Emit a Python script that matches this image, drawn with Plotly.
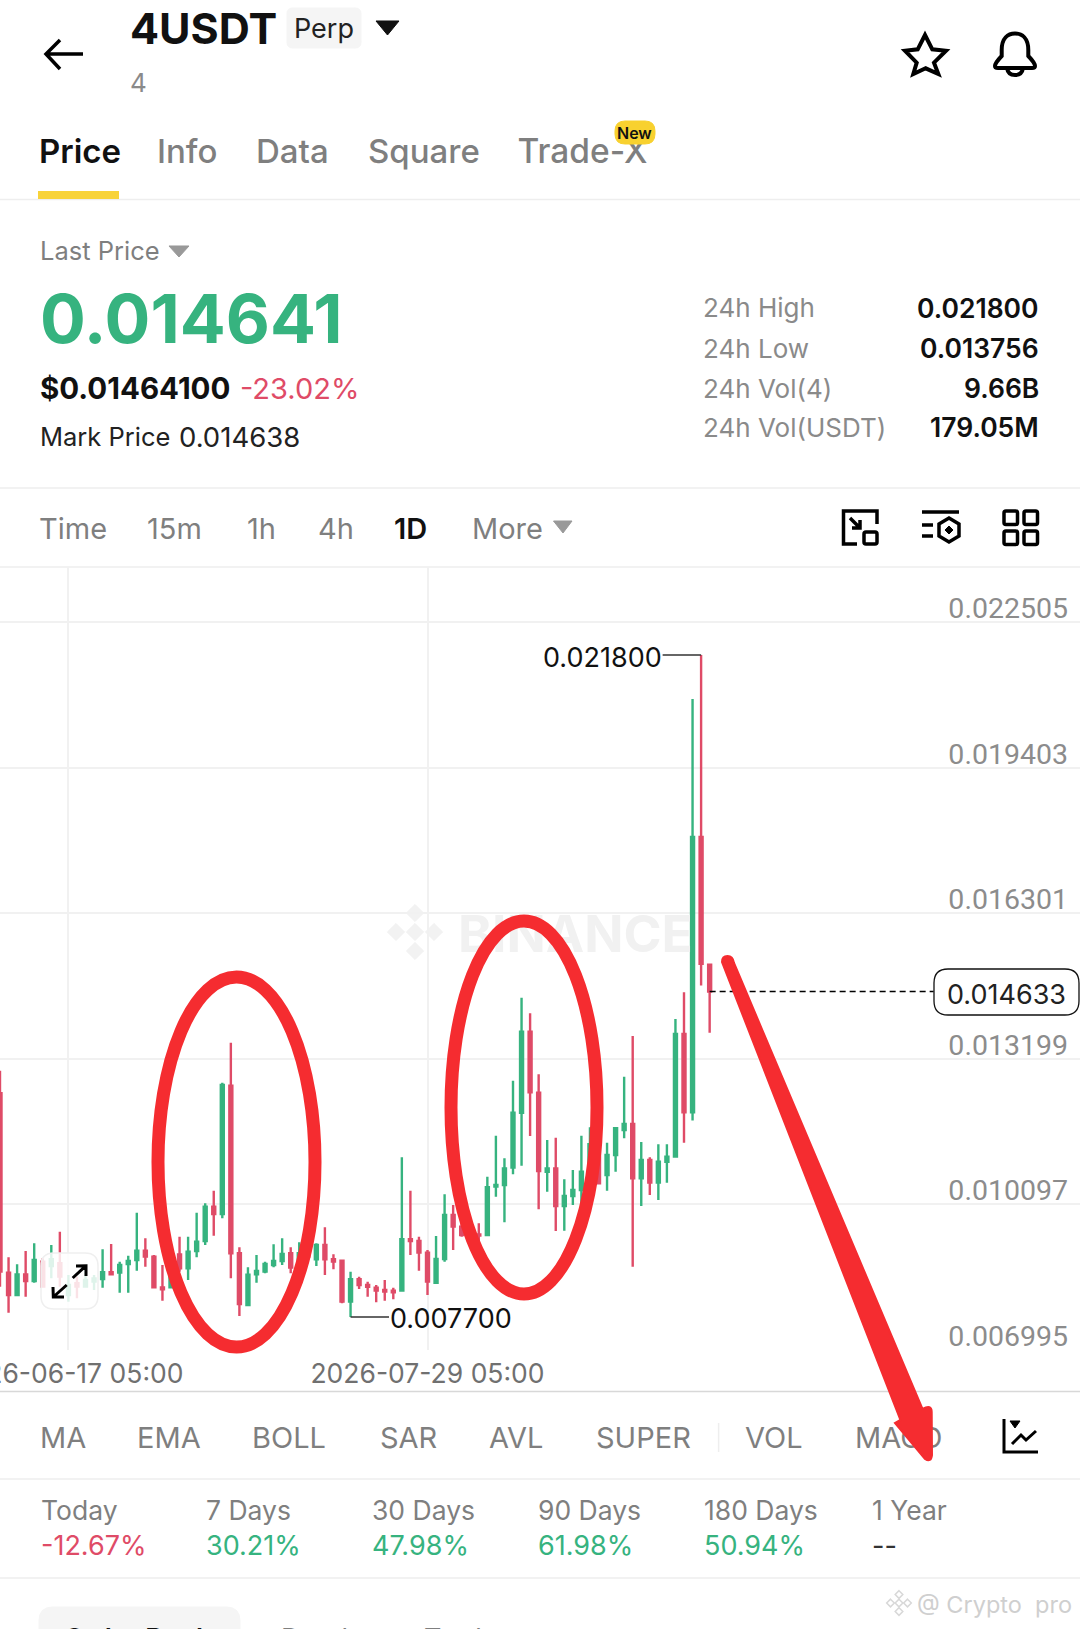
import re
import pandas as pd
import plotly.graph_objects as go

W, H = 1080, 1629
FONT = "Inter"
GREEN = "#36b37f"
RED = "#df4b67"
GRAY = "#7f7f7f"
MARK = "#f52c30"

dates = pd.date_range("2026-06-09 05:00", periods=84, freq="D")

opens = [0.012464, 0.008643, 0.008167, 0.008607, 0.008465, 0.008877, 0.008785, 0.008842, 0.008167, 0.008416,
         0.008345, 0.008451, 0.008508, 0.008650, 0.008643, 0.008827, 0.008913, 0.009111, 0.008984, 0.008330,
         0.008330, 0.009033, 0.008735, 0.009104, 0.009318, 0.010049, 0.009893, 0.012627, 0.009055, 0.007954,
         0.008607, 0.008664, 0.008806, 0.008891, 0.009055, 0.008913, 0.009232, 0.008927, 0.009232, 0.008927,
         0.008899, 0.008025, 0.008501, 0.008380, 0.008323, 0.008273, 0.008259, 0.008259, 0.009353, 0.009317,
         0.009069, 0.008429, 0.008934, 0.009871, 0.009623, 0.009587, 0.009459, 0.009445, 0.010475, 0.010510,
         0.010880, 0.012051, 0.013777, 0.012478, 0.010794, 0.010865, 0.010063, 0.010276, 0.010404, 0.010794,
         0.011377, 0.010723, 0.011150, 0.011682, 0.011810, 0.010652, 0.011043, 0.010560, 0.011007, 0.011114,
         0.013727, 0.012059, 0.017925, 0.015205]
highs = [0.012946, 0.008969, 0.008820, 0.009104, 0.009268, 0.008948, 0.009232, 0.009516, 0.008593, 0.008558,
         0.008771, 0.008593, 0.009140, 0.009254, 0.008877, 0.009005, 0.009921, 0.009374, 0.009019, 0.008806,
         0.009055, 0.009410, 0.009410, 0.009921, 0.010120, 0.010390, 0.012691, 0.013543, 0.009183, 0.008756,
         0.009019, 0.008877, 0.009246, 0.009374, 0.009183, 0.009289, 0.009268, 0.009268, 0.009609, 0.009033,
         0.008913, 0.008664, 0.008557, 0.008451, 0.008380, 0.008486, 0.008323, 0.011100, 0.010390, 0.009410,
         0.009126, 0.009424, 0.010311, 0.010084, 0.009765, 0.009694, 0.009694, 0.010688, 0.011561, 0.011078,
         0.012733, 0.014502, 0.014168, 0.012868, 0.011469, 0.011519, 0.010631, 0.010830, 0.011561, 0.011739,
         0.011682, 0.011412, 0.011732, 0.012818, 0.013685, 0.011426, 0.011100, 0.011377, 0.011377, 0.014047,
         0.014615, 0.020864, 0.021800, 0.015205]
lows = [0.008345, 0.007791, 0.008150, 0.008131, 0.008430, 0.008330, 0.008522, 0.008345, 0.008025, 0.008096,
        0.008330, 0.008274, 0.008323, 0.008593, 0.008217, 0.008217, 0.008685, 0.008771, 0.008309, 0.008046,
        0.008309, 0.008664, 0.008487, 0.008969, 0.009232, 0.009431, 0.009800, 0.008522, 0.007720, 0.007933,
        0.008430, 0.008629, 0.008756, 0.008806, 0.008629, 0.008842, 0.008913, 0.008785, 0.008593, 0.008714,
        0.007989, 0.007700, 0.008295, 0.008131, 0.008011, 0.008046, 0.008074, 0.008238, 0.009019, 0.008685,
        0.008167, 0.008401, 0.008877, 0.009126, 0.009410, 0.009374, 0.009197, 0.009431, 0.010262, 0.009715,
        0.010738, 0.010922, 0.011554, 0.009992, 0.010368, 0.009530, 0.009537, 0.010084, 0.010035, 0.010546,
        0.010532, 0.010390, 0.010794, 0.011505, 0.008770, 0.010063, 0.010297, 0.010191, 0.010560, 0.011100,
        0.011412, 0.011887, 0.014759, 0.013756]
closes = [0.008664, 0.008167, 0.008607, 0.008465, 0.008913, 0.008345, 0.008927, 0.008558, 0.008380, 0.008345,
          0.008487, 0.008522, 0.008650, 0.008607, 0.008806, 0.008891, 0.009111, 0.008984, 0.008330, 0.008288,
          0.008842, 0.008735, 0.009090, 0.009303, 0.010049, 0.009893, 0.012641, 0.009055, 0.007975, 0.008600,
          0.008678, 0.008827, 0.008891, 0.009040, 0.008749, 0.009055, 0.008984, 0.009232, 0.008927, 0.008877,
          0.008025, 0.008501, 0.008380, 0.008344, 0.008259, 0.008238, 0.008224, 0.009353, 0.009317, 0.009069,
          0.008451, 0.008934, 0.009871, 0.009623, 0.009445, 0.009445, 0.009431, 0.010461, 0.010510, 0.010865,
          0.012051, 0.013777, 0.012485, 0.010809, 0.010865, 0.010063, 0.010276, 0.010404, 0.010794, 0.011377,
          0.010546, 0.011150, 0.011718, 0.011810, 0.010652, 0.011043, 0.010560, 0.011007, 0.011114, 0.013727,
          0.012059, 0.017925, 0.015222, 0.014633]

price_ticks = [0.006995, 0.010097, 0.013199, 0.016301, 0.019403, 0.022505]
date_ticks = ["2026-06-17 05:00", "2026-07-29 05:00"]
last_tick = 0.014633

tabs = ["Price", "Info", "Data", "Square"]
intervals = ["Time", "15m", "1h", "4h", "1D", "More"]
indicators = ["MA", "EMA", "BOLL", "SAR", "AVL", "SUPER", "VOL"]
stat_names = ["Today", "7 Days", "30 Days", "90 Days", "180 Days", "1 Year"]
stat_values = ["-12.67%", "30.21%", "47.98%", "61.98%", "50.94%", "--"]
stat_colors = [RED, GREEN, GREEN, GREEN, GREEN, "#333333"]
info_names = ["24h High", "24h Low", "24h Vol(4)", "24h Vol(USDT)"]
info_values = ["0.021800", "0.013756", "9.66B", "179.05M"]


# page pixels -> paper fractions, the whole app screen is laid out in pixels
def px(x):
    return x / W

def py(y):
    return 1 - y / H

def page_path(d):
    count = [0]
    def conv(m):
        v = float(m.group(0))
        count[0] += 1
        return "%.5f" % (px(v) if count[0] % 2 == 1 else py(v))
    return re.sub(r"-?\d+\.?\d*", conv, d)

shapes = []
annotations = []

def path(d, color="#000000", width=3.5, fill=None, layer="above"):
    shapes.append(dict(type="path", xref="paper", yref="paper", path=page_path(d), layer=layer,
                       line=dict(color=color, width=width), fillcolor=fill or "rgba(0,0,0,0)"))

def hline(y, color="#eeeeee", width=1.5):
    path("M 0 %s L %s %s" % (y, W, y), color, width, layer="below")

def rect(x0, y0, x1, y1, r, color="#000000", width=3.5, fill=None):
    d = ("M %s %s L %s %s Q %s %s %s %s L %s %s Q %s %s %s %s L %s %s Q %s %s %s %s L %s %s Q %s %s %s %s Z"
         % (x0 + r, y0, x1 - r, y0, x1, y0, x1, y0 + r, x1, y1 - r, x1, y1, x1 - r, y1,
            x0 + r, y1, x0, y1, x0, y1 - r, x0, y0 + r, x0, y0, x0 + r, y0))
    path(d, color, width, fill)

def ellipse(x0, y0, x1, y1):
    shapes.append(dict(type="circle", xref="paper", yref="paper", x0=px(x0), x1=px(x1), y0=py(y1), y1=py(y0),
                       line=dict(color=MARK, width=13), layer="above"))

def txt(x, y, s, size=27, color=GRAY, anchor="left", weight=400):
    if anchor == "left":
        x -= 1.8
    annotations.append(dict(x=px(x), y=py(y), xref="paper", yref="paper", text=s, showarrow=False,
                            xanchor=anchor, yanchor="middle", borderpad=0, align=anchor,
                            font=dict(family=FONT, size=size, color=color, weight=weight)))

def under_txt(x, y, s, size, color, weight=400):
    # shapes cover traces but not annotations, so text under a mark goes in as a trace
    fig.add_trace(go.Scatter(
        x=[x], y=[y], text=[s], mode="text", textposition="middle right", xaxis="x2", yaxis="y2",
        textfont=dict(family=FONT, size=size, color=color, weight=weight), showlegend=False, hoverinfo="skip"))

def logo(cx, cy, s, color, width, fill=None):
    for dx, dy in [(0, 0), (-s, 0), (s, 0), (0, -s), (0, s)]:
        r = s * 0.45
        path("M %s %s L %s %s L %s %s L %s %s Z" % (cx + dx, cy + dy - r, cx + dx + r, cy + dy,
                                                    cx + dx, cy + dy + r, cx + dx - r, cy + dy),
             color, width, fill, layer="below")


# candles
fig = go.Figure(go.Candlestick(
    x=dates, open=opens, high=highs, low=lows, close=closes,
    increasing=dict(line=dict(color=GREEN, width=2.4), fillcolor=GREEN),
    decreasing=dict(line=dict(color=RED, width=2.4), fillcolor=RED),
    whiskerwidth=0, showlegend=False, xaxis="x", yaxis="y",
))

under_txt(517.5, 155, "Trade-X", 33.5, GRAY, 500)
under_txt(855, 1441, "MACD", 29, GRAY)
under_txt(458, 939, "BINANCE", 51.5, "#f1f1f1", 700)

# header
path("M 83 54 L 46 54 M 60 40 L 46 54 L 60 69")
txt(131, 28, "4USDT", 43, "#111111", weight=700)
rect(287, 8, 361, 48, 6, "#f5f5f5", 1, "#f5f5f5")
txt(324, 29, "Perp", 27, "#222222", "center")
path("M 376 21 L 399 21 L 387.5 35 Z", "#111111", 1, "#111111")
txt(131, 83, "4", 26, "#8a8a8a")
path("M 925 35 L 932.3 49.3 L 946 50.7 L 934 62.7 L 938.3 74 L 925.7 68.3 L 913.3 74 L 916.7 62.7 L 905 50.7 L 917.7 49.3 Z", width=4)
path("M 1001.7 50 C 1001.7 38 1008 33.5 1015 33.5 C 1022 33.5 1028.3 38 1028.3 50 L 1028.3 56 Q 1035 63 1035 66 "
     "Q 1035 68 1032 68 L 998 68 Q 995 68 995 66 Q 995 63 1001.7 56 Z M 1007 68 Q 1008 75 1015 75 Q 1022 75 1023 68", width=4)

for name, x in zip(tabs, [39.5, 158, 256.5, 369]):
    txt(x, 151, name, 33, "#111111" if name == "Price" else GRAY, weight=600 if name == "Price" else 500)
path("M 38 195 L 119 195", "#f8d33a", 8)
rect(615, 121, 655, 144, 10, "#f8d12f", 1, "#f8d12f")
txt(635, 133, "New", 16, "#111111", "center", 600)
hline(199.5)

# price block
txt(41, 250, "Last Price", 25.5)
path("M 169 246 L 189 246 L 179 257 Z", "#999999", 1, "#999999")
txt(41, 318, "0.014641", 68, GREEN, weight=700)
txt(41, 388, "$0.01464100", 29.5, "#111111", weight=700)
txt(241, 388, "-23.02%", 29, RED)
txt(41, 437, "Mark Price", 25.5, "#222222")
txt(180, 437, "0.014638", 27.5, "#222222")
for name, value, y in zip(info_names, info_values, [308, 348, 388, 427]):
    txt(704, y, name, 26, "#8a8a8a")
    txt(1040, y, value, 26.5, "#111111", "right", 600)
hline(488)

# interval row
for name, x in zip(intervals, [39.5, 148, 248, 319, 394.6, 472.5]):
    txt(x, 528.5, name, 29, "#111111" if name == "1D" else GRAY, weight=600 if name == "1D" else 400)
path("M 553.5 521 L 572 521 L 563 533 Z", "#999999", 1, "#999999")
path("M 857 544 L 843.5 544 L 843.5 511 L 877 511 L 877 524 M 850 518 L 860 528 M 860 520 L 860 528 L 852 528")
rect(864, 532, 877, 544, 2)
path("M 922 512 L 959 512 M 922 525 L 933 525 M 922 536 L 933 536")
path("M 949 518 L 959 524 L 959 536 L 949 542 L 939 536 L 939 524 Z")
path("M 949 526 L 953 530 L 949 534 L 945 530 Z", width=1, fill="#000000")
for x0, y0 in [(1004, 511), (1024, 511), (1004, 531), (1024, 531)]:
    rect(x0, y0, x0 + 13.5, y0 + 13.5, 2)
hline(567)

# watermark
logo(415, 932, 19, "#f2f2f2", 1, "#f2f2f2")

# last price pill, high and low labels
shapes.append(dict(type="line", xref="x", yref="y", x0=dates[83], x1=dates[83] + pd.Timedelta(days=26.2),
                   y0=last_tick, y1=last_tick, line=dict(color="#000000", width=1.6, dash="6px,4px"), layer="above"))
rect(934, 969, 1079, 1015, 14, "#111111", 1.3, "#ffffff")
txt(1006.5, 994, "%.6f" % last_tick, 27, "#222222", "center")
shapes.append(dict(type="line", xref="x", yref="y", x0=dates[82], x1=dates[82] - pd.Timedelta(days=4.5),
                   y0=max(highs), y1=max(highs), line=dict(color="#333333", width=1.5), layer="above"))
shapes.append(dict(type="line", xref="x", yref="y", x0=dates[41], x1=dates[41] + pd.Timedelta(days=4.5),
                   y0=min(lows), y1=min(lows), line=dict(color="#333333", width=1.5), layer="above"))
annotations.append(dict(x=dates[82] - pd.Timedelta(days=4.5), y=max(highs), xref="x", yref="y", showarrow=False,
                        text="%.6f" % max(highs), xanchor="right", yanchor="middle", borderpad=0, yshift=-2,
                        font=dict(family=FONT, size=27, color="#111111")))
annotations.append(dict(x=dates[41] + pd.Timedelta(days=4.5), y=min(lows), xref="x", yref="y", showarrow=False,
                        text="%.6f" % min(lows), xanchor="left", yanchor="middle", borderpad=0, yshift=-2,
                        font=dict(family=FONT, size=27, color="#111111")))

# expand button over the candles
rect(41, 1253, 98, 1309, 13, "#efefef", 1.5, "rgba(255,255,255,0.84)")
path("M 72.7 1278 L 86 1265.7 M 76 1266 L 86 1265.7 L 86 1276 M 66.7 1285 L 53.3 1297 M 53 1287 L 53.3 1297 L 64 1297", "#000000", 3)

# hand drawn red marks
ellipse(158, 977, 315, 1347)
ellipse(451, 921, 597, 1294)
path("M 722 962 Q 722 956 727.5 956 Q 733 956 734 963 L 922.5 1409 Q 931.7 1404 931.7 1412 L 932 1455 "
     "Q 931 1463 925 1459 L 895 1423 L 900.4 1420 Z", MARK, 2, MARK)

# indicator row
hline(1391.5, "#d8d8d8", 1.5)
for name, x in zip(indicators, [41, 138, 253, 381, 490, 597, 746]):
    txt(x, 1437, name, 29)
path("M 718.6 1423 L 718.6 1452", "#eeeeee", 1.5)
path("M 1004 1419 L 1004 1452 L 1038 1452 M 1012 1444 L 1021 1435 L 1026 1440 L 1036 1431", width=3)
path("M 1010 1421 L 1020 1421 L 1015 1428 Z", width=1, fill="#000000")
hline(1479)

# period stats
for name, value, color, x in zip(stat_names, stat_values, stat_colors, [41.5, 207, 373, 539, 705, 873]):
    txt(x, 1510, name, 26.5)
    txt(x, 1545, value, 27, color)
hline(1578)

logo(899, 1603, 8.5, "#d8d8d8", 1.5)
txt(918, 1604, "@ Crypto  pro", 23.5, "#cfcfcf")

# cut off by the bottom of the screen
rect(39, 1607, 240, 1660, 14, "#f5f5f5", 1, "#f5f5f5")
txt(65, 1638, "Order Book", 27, "#111111", weight=600)
txt(282, 1638, "Depth", 27)
txt(425, 1638, "Trades", 27)

per_day = 8.55
y_top = py(567)
y_bottom = py(1350)
y_range_top = price_ticks[-1] + (622 - 567) * (price_ticks[-1] - price_ticks[0]) / 728

fig.update_layout(
    width=W, height=H, autosize=False,
    margin=dict(l=0, r=0, t=0, b=0, pad=0),
    paper_bgcolor="#ffffff", plot_bgcolor="rgba(0,0,0,0)",
    showlegend=False, shapes=shapes, annotations=annotations, boxgap=0.5,
    font=dict(family=FONT),
    xaxis=dict(type="date", domain=[0, 1], anchor="y", range=[dates[0], dates[0] + pd.Timedelta(days=W / per_day)],
               automargin=False, rangeslider=dict(visible=False), tickmode="array", tickvals=date_ticks,
               tickformat="%Y-%m-%d %H:%M", ticks="", showline=False, zeroline=False, showgrid=True,
               gridcolor="#f1f1f1", gridwidth=1.5, ticklabeloverflow="allow", tickangle=0, ticklabelstandoff=5,
               tickfont=dict(family=FONT, size=26.5, color="#707070")),
    yaxis=dict(domain=[y_bottom, y_top], anchor="x", side="right", range=[price_ticks[0], y_range_top],
               automargin=False, tickmode="array", tickvals=price_ticks, tickformat=".6f", ticks="",
               ticklabelposition="inside", ticklabeloverflow="allow", ticklabelshift=-14, ticklabelstandoff=9,
               showline=False, zeroline=False, showgrid=True, gridcolor="#f1f1f1", gridwidth=1.5,
               tickfont=dict(family="Roboto", size=28.5, color="#8c8c8c")),
    xaxis2=dict(domain=[0, 1], range=[0, W], visible=False, anchor="y2", automargin=False),
    yaxis2=dict(domain=[0, 1], range=[H, 0], visible=False, anchor="x2", automargin=False),
)

# body margin of the page would push the screen off by 8px
fig.write_html("out.html", post_script="document.body.style.margin='0';", config=dict(displayModeBar=False))
